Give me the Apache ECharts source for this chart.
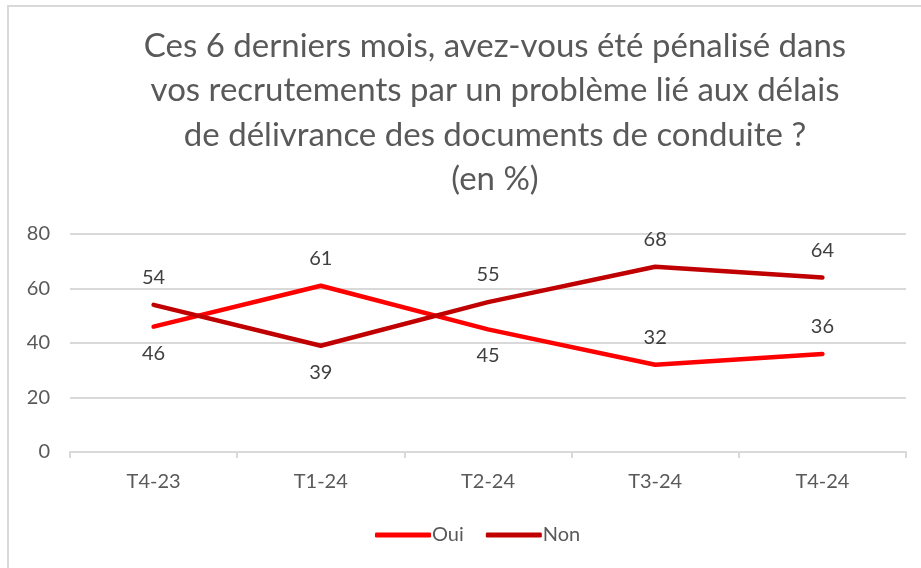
<!DOCTYPE html>
<html><head><meta charset="utf-8">
<script src="https://cdn.jsdelivr.net/npm/echarts@6/dist/echarts.min.js"></script>
<style>html,body{margin:0;padding:0;background:#fff;}#c{width:921px;height:568px;}</style>
</head><body><div id="c"></div>
<script>
const categories = ['T4-23','T1-24','T2-24','T3-24','T4-24'];
const oui = [46, 61, 45, 32, 36];
const non = [54, 39, 55, 68, 64];
const ouiLabelPos = ['bottom','top','bottom','top','top'];
const nonLabelPos = ['top','bottom','top','top','top'];
const yTicks = {min:0, max:80, interval:20};
const titleText = 'Ces 6 derniers mois, avez-vous été pénalisé dans\nvos recrutements par un problème lié aux délais\nde délivrance des documents de conduite ?\n(en %)';

const font = 'Lato';
function mk(vals, pos){
  return vals.map((v,i)=>({value:v, label:{position:pos[i], distance: pos[i]==='top'?17:16}}));
}
const chart = echarts.init(document.getElementById('c'));
chart.setOption({
  animation:false,
  textStyle:{fontFamily:font},
  graphic:[{type:'rect', shape:{x:8,y:6,width:930,height:580}, style:{fill:'none', stroke:'#d9d9d9', lineWidth:2}, silent:true}],
  title:{text:titleText, left:490, textAlign:'center', top:19,
    textStyle:{fontFamily:font, fontSize:33, fontWeight:'normal', color:'#595959', lineHeight:44.5}},
  grid:{left:70, right:15, top:234, bottom:116, containLabel:false},
  legend:{bottom:18, left:370, itemWidth:56, itemHeight:5, itemGap:22,
    textStyle:{fontFamily:font, fontSize:20, color:'#595959', padding:[0,0,0,-4]},
    icon:'roundRect',
    data:[{name:'Oui', itemStyle:{color:'#ff0000', opacity:1}},{name:'Non', itemStyle:{color:'#c00000', opacity:1}}]},
  xAxis:{type:'category', data:categories, boundaryGap:true,
    axisLine:{lineStyle:{color:'#d9d9d9', width:2}},
    axisTick:{show:true, length:6, lineStyle:{color:'#d9d9d9', width:2}},
    axisLabel:{fontFamily:font, fontSize:20, color:'#595959', margin:20}},
  yAxis:{type:'value', min:yTicks.min, max:yTicks.max, interval:yTicks.interval,
    axisLine:{show:false}, axisTick:{show:false},
    splitLine:{lineStyle:{color:'#d9d9d9', width:2}},
    axisLabel:{fontFamily:font, fontSize:20, color:'#595959', margin:20}},
  series:[
    {name:'Oui', type:'line', data:mk(oui, ouiLabelPos), symbol:'circle', symbolSize:1, showSymbol:true,
      lineStyle:{color:'#ff0000', width:4.5, cap:'round'}, itemStyle:{color:'rgba(0,0,0,0)'},
      label:{show:true, fontFamily:font, fontSize:20, color:'#404040'}},
    {name:'Non', type:'line', data:mk(non, nonLabelPos), symbol:'circle', symbolSize:1, showSymbol:true,
      lineStyle:{color:'#c00000', width:4.5, cap:'round'}, itemStyle:{color:'rgba(0,0,0,0)'},
      label:{show:true, fontFamily:font, fontSize:20, color:'#404040'}}
  ]
});
</script></body></html>
